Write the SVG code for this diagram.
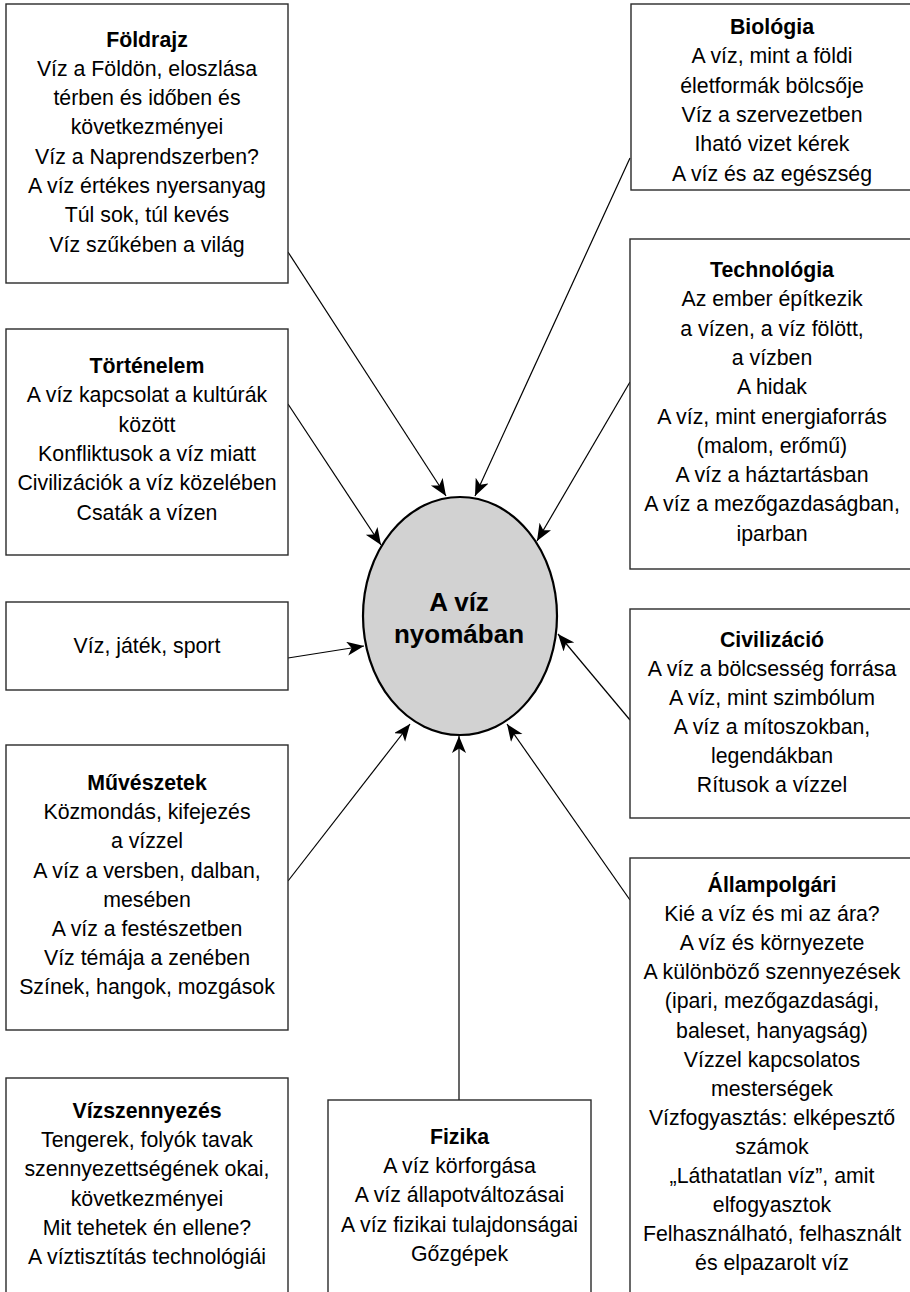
<svg xmlns="http://www.w3.org/2000/svg" width="910" height="1292" viewBox="0 0 910 1292">
<style>
  .box { fill: #ffffff; stroke: #2a2a2a; stroke-width: 1.4; }
  .t { font-family: "Liberation Sans", Arial, sans-serif; font-size: 21.3px; fill: #000; text-anchor: middle; }
  .b { font-weight: bold; }
  .conn { stroke: #000; stroke-width: 1.2; fill: none; marker-end: url(#arr); }
  .center { fill: #d2d2d2; stroke: #000; stroke-width: 2.2; }
  .ct { font-family: "Liberation Sans", Arial, sans-serif; font-size: 26px; font-weight: bold; fill: #000; text-anchor: middle; }
</style>
<defs>
  <marker id="arr" markerUnits="userSpaceOnUse" markerWidth="20" markerHeight="16" refX="17" refY="7" orient="auto">
    <path d="M0,0 L17,7 L0,14 L4.5,7 Z" fill="#000"/>
  </marker>
</defs>
<rect width="910" height="1292" fill="#ffffff"/>

<g id="connectors">
  <line class="conn" x1="288" y1="252" x2="446" y2="496"/>
  <line class="conn" x1="630" y1="158" x2="475" y2="496"/>
  <line class="conn" x1="288" y1="404" x2="381" y2="545"/>
  <line class="conn" x1="630" y1="382" x2="537" y2="541"/>
  <line class="conn" x1="288" y1="658" x2="364" y2="646"/>
  <line class="conn" x1="630" y1="720" x2="558" y2="634"/>
  <line class="conn" x1="288" y1="881" x2="410" y2="724"/>
  <line class="conn" x1="459" y1="1100" x2="459" y2="736"/>
  <line class="conn" x1="630" y1="900" x2="507" y2="724"/>
</g>

<g id="center">
  <ellipse class="center" cx="460" cy="616" rx="97" ry="119"/>
  <text class="ct" x="459" y="611">A víz</text>
  <text class="ct" x="459" y="643">nyomában</text>
</g>

<g id="foldrajz">
  <rect class="box" x="6" y="4" width="282" height="279"/>
  <text class="t b" x="147" y="46.5">Földrajz</text>
  <text class="t" x="147" y="75.8">Víz a Földön, eloszlása</text>
  <text class="t" x="147" y="105.1">térben és időben és</text>
  <text class="t" x="147" y="134.4">következményei</text>
  <text class="t" x="147" y="163.7">Víz a Naprendszerben?</text>
  <text class="t" x="147" y="193">A víz értékes nyersanyag</text>
  <text class="t" x="147" y="222.3">Túl sok, túl kevés</text>
  <text class="t" x="147" y="251.6">Víz szűkében a világ</text>
</g>

<g id="biologia">
  <rect class="box" x="631" y="4" width="282" height="186"/>
  <text class="t b" x="772" y="34">Biológia</text>
  <text class="t" x="772" y="63.3">A víz, mint a földi</text>
  <text class="t" x="772" y="92.6">életformák bölcsője</text>
  <text class="t" x="772" y="121.9">Víz a szervezetben</text>
  <text class="t" x="772" y="151.2">Iható vizet kérek</text>
  <text class="t" x="772" y="180.5">A víz és az egészség</text>
</g>

<g id="technologia">
  <rect class="box" x="630" y="239" width="283" height="330"/>
  <text class="t b" x="772" y="277">Technológia</text>
  <text class="t" x="772" y="306.3">Az ember építkezik</text>
  <text class="t" x="772" y="335.6">a vízen, a víz fölött,</text>
  <text class="t" x="772" y="364.9">a vízben</text>
  <text class="t" x="772" y="394.2">A hidak</text>
  <text class="t" x="772" y="423.5">A víz, mint energiaforrás</text>
  <text class="t" x="772" y="452.8">(malom, erőmű)</text>
  <text class="t" x="772" y="482.1">A víz a háztartásban</text>
  <text class="t" x="772" y="511.4">A víz a mezőgazdaságban,</text>
  <text class="t" x="772" y="540.7">iparban</text>
</g>

<g id="tortenelem">
  <rect class="box" x="6" y="329" width="282" height="226"/>
  <text class="t b" x="147" y="373">Történelem</text>
  <text class="t" x="147" y="402.3">A víz kapcsolat a kultúrák</text>
  <text class="t" x="147" y="431.6">között</text>
  <text class="t" x="147" y="460.9">Konfliktusok a víz miatt</text>
  <text class="t" x="147" y="490.2">Civilizációk a víz közelében</text>
  <text class="t" x="147" y="519.5">Csaták a vízen</text>
</g>

<g id="viz-jatek">
  <rect class="box" x="6" y="602" width="282" height="88"/>
  <text class="t" x="147" y="653">Víz, játék, sport</text>
</g>

<g id="civilizacio">
  <rect class="box" x="630" y="609" width="283" height="209"/>
  <text class="t b" x="772" y="647">Civilizáció</text>
  <text class="t" x="772" y="676">A víz a bölcsesség forrása</text>
  <text class="t" x="772" y="705">A víz, mint szimbólum</text>
  <text class="t" x="772" y="734">A víz a mítoszokban,</text>
  <text class="t" x="772" y="763">legendákban</text>
  <text class="t" x="772" y="792">Rítusok a vízzel</text>
</g>

<g id="muveszetek">
  <rect class="box" x="6" y="745" width="282" height="285"/>
  <text class="t b" x="147" y="790">Művészetek</text>
  <text class="t" x="147" y="819.2">Közmondás, kifejezés</text>
  <text class="t" x="147" y="848.4">a vízzel</text>
  <text class="t" x="147" y="877.6">A víz a versben, dalban,</text>
  <text class="t" x="147" y="906.8">mesében</text>
  <text class="t" x="147" y="936">A víz a festészetben</text>
  <text class="t" x="147" y="965.2">Víz témája a zenében</text>
  <text class="t" x="147" y="994.4">Színek, hangok, mozgások</text>
</g>

<g id="allampolgari">
  <rect class="box" x="630" y="858" width="283" height="450"/>
  <text class="t b" x="772" y="892">Állampolgári</text>
  <text class="t" x="772" y="921.1">Kié a víz és mi az ára?</text>
  <text class="t" x="772" y="950.2">A víz és környezete</text>
  <text class="t" x="772" y="979.3">A különböző szennyezések</text>
  <text class="t" x="772" y="1008.4">(ipari, mezőgazdasági,</text>
  <text class="t" x="772" y="1037.5">baleset, hanyagság)</text>
  <text class="t" x="772" y="1066.6">Vízzel kapcsolatos</text>
  <text class="t" x="772" y="1095.7">mesterségek</text>
  <text class="t" x="772" y="1124.8">Vízfogyasztás: elképesztő</text>
  <text class="t" x="772" y="1153.9">számok</text>
  <text class="t" x="772" y="1183">„Láthatatlan víz”, amit</text>
  <text class="t" x="772" y="1212.1">elfogyasztok</text>
  <text class="t" x="772" y="1241.2">Felhasználható, felhasznált</text>
  <text class="t" x="772" y="1270.3">és elpazarolt víz</text>
</g>

<g id="vizszennyezes">
  <rect class="box" x="6" y="1078" width="282" height="230"/>
  <text class="t b" x="147" y="1118">Vízszennyezés</text>
  <text class="t" x="147" y="1147.2">Tengerek, folyók tavak</text>
  <text class="t" x="147" y="1176.4">szennyezettségének okai,</text>
  <text class="t" x="147" y="1205.6">következményei</text>
  <text class="t" x="147" y="1234.8">Mit tehetek én ellene?</text>
  <text class="t" x="147" y="1264">A víztisztítás technológiái</text>
</g>

<g id="fizika">
  <rect class="box" x="328" y="1100" width="263" height="208"/>
  <text class="t b" x="459.5" y="1144">Fizika</text>
  <text class="t" x="459.5" y="1173.2">A víz körforgása</text>
  <text class="t" x="459.5" y="1202.4">A víz állapotváltozásai</text>
  <text class="t" x="459.5" y="1231.6">A víz fizikai tulajdonságai</text>
  <text class="t" x="459.5" y="1260.8">Gőzgépek</text>
</g>
</svg>
